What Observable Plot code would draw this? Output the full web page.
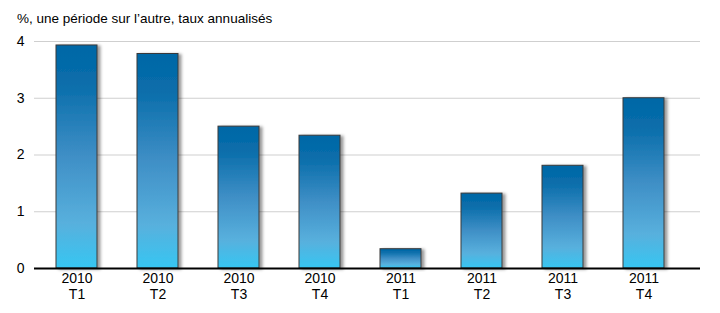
<!DOCTYPE html>
<html>
<head>
<meta charset="utf-8">
<script src="https://cdn.jsdelivr.net/npm/d3@7"></script>
<script src="https://cdn.jsdelivr.net/npm/@observablehq/plot@0.6"></script>
<style>
  html, body { margin: 0; padding: 0; background: #fff; }
  body { width: 720px; height: 313px; overflow: hidden; font-family: "Liberation Sans", Arial, sans-serif; }
  #title { height: 33px; box-sizing: border-box; padding: 11px 0 0 17px; font-size: 13.5px; line-height: 15px; color: #000; }
  svg { display: block; }
</style>
</head>
<body>
<div id="title">%, une période sur l’autre, taux annualisés</div>
<div id="chart"></div>
<script>
const years = ["2010", "2010", "2010", "2010", "2011", "2011", "2011", "2011"];
const quarters = ["T1", "T2", "T3", "T4", "T1", "T2", "T3", "T4"];
const values = [3.93, 3.78, 2.50, 2.34, 0.34, 1.32, 1.81, 3.00];
const yTicks = [0, 1, 2, 3, 4];

const labels = years.map((y, i) => y + "\n" + quarters[i]);
const data = labels.map((label, i) => ({label, value: values[i]}));

const chart = Plot.plot({
  width: 720,
  height: 280,
  marginTop: 8,
  marginBottom: 45,
  marginLeft: 34,
  marginRight: 20,
  style: {fontFamily: "'Liberation Sans', Arial, sans-serif", fontSize: "14px", color: "#000", background: "#fff"},
  x: {domain: labels, range: [54.5, 664.5], paddingInner: 0.5, paddingOuter: 0, align: 0.5, label: null},
  y: {domain: [0, 4], label: null},
  marks: [
    Plot.ruleY(yTicks.filter(d => d > 0), {stroke: "#cfcfcf", strokeWidth: 1}),
    Plot.barY(data, {x: "label", y: "value", fill: "#2a88c4", stroke: "#3a3a3a", strokeWidth: 1}),
    Plot.ruleY([0], {stroke: "#000", strokeWidth: 2}),
    Plot.axisY({ticks: yTicks, tickSize: 0, tickPadding: 10, tickFormat: d3.format("d"), fontSize: 14, label: null}),
    Plot.axisX({tickSize: 0, tickPadding: 4, fontSize: 14, lineHeight: 1.1, label: null})
  ]
});

// gradient + shadow defs
const svg = d3.select(chart);
const defs = svg.insert("defs", ":first-child");
const grad = defs.append("linearGradient").attr("id", "barGrad")
  .attr("x1", 0).attr("y1", 0).attr("x2", 0).attr("y2", 1);
[[0, "#0067a6"], [0.18, "#0a6eab"], [0.5, "#3f8fc6"], [0.8, "#58b0dd"], [1, "#36c6f2"]]
  .forEach(([o, c]) => grad.append("stop").attr("offset", o).attr("stop-color", c));
const filt = defs.append("filter").attr("id", "barShadow")
  .attr("x", "-10%").attr("y", "-10%").attr("width", "140%").attr("height", "130%");
filt.append("feDropShadow").attr("dx", 3).attr("dy", 1).attr("stdDeviation", 1.6)
  .attr("flood-color", "#000").attr("flood-opacity", 0.4);
svg.selectAll("g[aria-label='bar'] rect").attr("fill", "url(#barGrad)").attr("filter", "url(#barShadow)");

document.getElementById("chart").appendChild(chart);
</script>
</body>
</html>
